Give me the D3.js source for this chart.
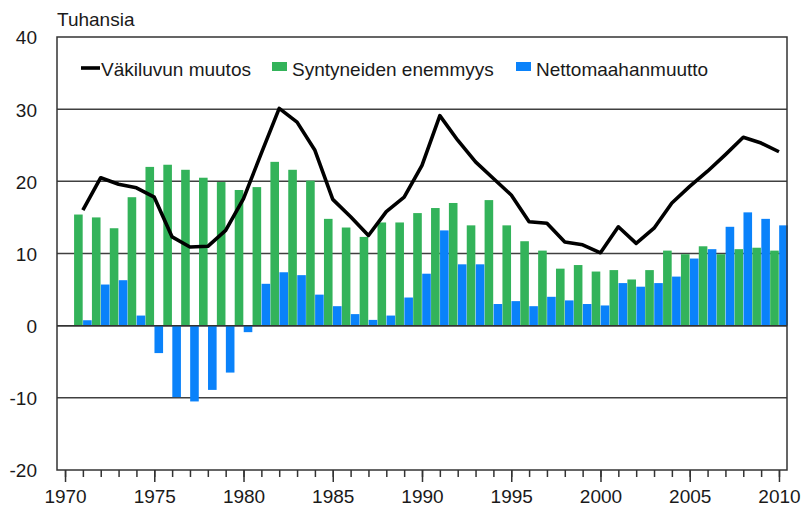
<!DOCTYPE html>
<html>
<head>
<meta charset="utf-8">
<script src="https://cdn.jsdelivr.net/npm/d3@7"></script>
<style>
  body { margin: 0; background: #fff; }
  text { font-family: "Liberation Sans", Arial, sans-serif; fill: #1a1a1a; }
  .axis path, .axis line { stroke: #333; }
</style>
</head>
<body>
<div id="chart"></div>
<script>
// data (thousands)
var years = d3.range(1971, 2011);

var births = [15.4, 15.0, 13.5, 17.8, 22.0, 22.3, 21.6, 20.5, 19.9, 18.8,
  19.2, 22.7, 21.6, 20.1, 14.8, 13.6, 12.3, 14.3, 14.3, 15.6,
  16.3, 17.0, 13.9, 17.4, 13.9, 11.7, 10.4, 7.9, 8.4, 7.5,
  7.7, 6.4, 7.7, 10.4, 9.9, 11.0, 9.9, 10.6, 10.8, 10.4];

var migration = [0.75, 5.7, 6.3, 1.4, -3.8, -9.9, -10.5, -8.9, -6.5, -0.9,
  5.8, 7.4, 7.0, 4.3, 2.7, 1.6, 0.8, 1.4, 3.9, 7.2,
  13.2, 8.5, 8.5, 3.0, 3.4, 2.7, 4.0, 3.5, 3.0, 2.8,
  5.9, 5.4, 5.9, 6.8, 9.3, 10.6, 13.7, 15.7, 14.8, 13.9];

var change = [16.0, 20.5, 19.6, 19.1, 17.8, 12.3, 10.9, 11.0, 13.2, 17.6,
  23.9, 30.1, 28.2, 24.3, 17.5, 15.1, 12.5, 15.8, 17.8, 22.2,
  29.1, 25.7, 22.7, 20.4, 18.1, 14.4, 14.2, 11.6, 11.2, 10.1,
  13.7, 11.4, 13.5, 17.0, 19.3, 21.4, 23.7, 26.1, 25.3, 24.1];

var yTicks = [-20, -10, 0, 10, 20, 30, 40];
var xTickYears = [1970, 1975, 1980, 1985, 1990, 1995, 2000, 2005, 2010];

var seriesNames = ["Väkiluvun muutos", "Syntyneiden enemmyys", "Nettomaahanmuutto"];

(function () {
  var green = "#33b35a", blue = "#0a82fa"

  var W = 801, H = 516
  var pl = 57, pr = 787, pt = 37, pb = 470

  var svg = d3.select("#chart").append("svg")
    .attr("width", W)
    .attr("height", H)

  var x = d3.scaleLinear().domain([1969.55, 2010.45]).range([pl, pr])
  var y = d3.scaleLinear().domain([-20, 40]).range([pb, pt])

  var barW = 8.6

  // gridlines
  svg.append("g")
    .selectAll("line")
    .data(yTicks.filter(function(d) { return d > -20 && d < 40 }))
    .enter().append("line")
    .attr("x1", pl).attr("x2", pr)
    .attr("y1", function(d) { return y(d) }).attr("y2", function(d) { return y(d) })
    .attr("stroke", "#404040")
    .attr("stroke-width", 1.5)

  // bars
  svg.append("g").selectAll("rect")
    .data(years)
    .enter().append("rect")
    .attr("x", function(d) { return x(d) - barW - 0.2 })
    .attr("y", function(d, i) { return y(Math.max(0, births[i])) })
    .attr("width", barW)
    .attr("height", function(d, i) { return Math.abs(y(births[i]) - y(0)) })
    .attr("fill", green)

  svg.append("g").selectAll("rect")
    .data(years)
    .enter().append("rect")
    .attr("x", function(d) { return x(d) + 0.2 })
    .attr("y", function(d, i) { return y(Math.max(0, migration[i])) })
    .attr("width", barW)
    .attr("height", function(d, i) { return Math.abs(y(migration[i]) - y(0)) })
    .attr("fill", blue)

  // zero line over bars
  svg.append("line")
    .attr("x1", pl).attr("x2", pr)
    .attr("y1", y(0)).attr("y2", y(0))
    .attr("stroke", "#333")
    .attr("stroke-width", 1.5)

  // line
  var line = d3.line()
    .x(function(d) { return x(d) })
    .y(function(d, i) { return y(change[i]) })

  svg.append("path")
    .datum(years)
    .attr("d", line)
    .attr("fill", "none")
    .attr("stroke", "#000")
    .attr("stroke-width", 3.6)
    .attr("stroke-linejoin", "round")

  // frame
  svg.append("rect")
    .attr("x", pl).attr("y", pt)
    .attr("width", pr - pl).attr("height", pb - pt)
    .attr("fill", "none")
    .attr("stroke", "#333")
    .attr("stroke-width", 1.5)

  // y axis labels (plain hyphen for negatives, like the original)
  var yAxis = d3.axisLeft(y).tickValues(yTicks).tickSize(0).tickPadding(20)
    .tickFormat(function(d) { return String(d) })
  svg.append("g")
    .attr("class", "axis y-axis")
    .attr("transform", "translate(" + pl + ",0)")
    .call(yAxis)
    .call(function(g) { g.select(".domain").remove() })
    .selectAll("text")
    .style("font-size", "19px")
    .attr("dy", "0.36em")

  // x axis: minor ticks every year, major every 5
  var xMinor = d3.axisBottom(x).tickValues(d3.range(1970, 2011)).tickSize(7).tickFormat("")
  svg.append("g")
    .attr("class", "axis x-minor")
    .attr("transform", "translate(0," + pb + ")")
    .call(xMinor)
    .call(function(g) { g.select(".domain").remove() })
    .selectAll("line").attr("stroke-width", 1.5)

  var xAxis = d3.axisBottom(x).tickValues(xTickYears).tickSize(12).tickPadding(8)
    .tickFormat(function(d) { return String(d) })
  svg.append("g")
    .attr("class", "axis x-axis")
    .attr("transform", "translate(0," + pb + ")")
    .call(xAxis)
    .call(function(g) { g.select(".domain").remove() })
    .call(function(g) { g.selectAll("line").attr("stroke-width", 1.5) })
    .selectAll("text")
    .style("font-size", "19px")

  // unit label
  svg.append("text")
    .attr("x", 57).attr("y", 26)
    .style("font-size", "19px")
    .text("Tuhansia")

  // legend
  var legend = svg.append("g")
  legend.append("line")
    .attr("x1", 81).attr("x2", 100)
    .attr("y1", 68).attr("y2", 68)
    .attr("stroke", "#000").attr("stroke-width", 3.6)
  legend.append("text").attr("x", 101).attr("y", 76).style("font-size", "19px").text(seriesNames[0])

  legend.append("rect").attr("x", 272).attr("y", 62).attr("width", 15).attr("height", 9).attr("fill", green)
  legend.append("text").attr("x", 292).attr("y", 76).style("font-size", "19px").text(seriesNames[1])

  legend.append("rect").attr("x", 516).attr("y", 62).attr("width", 15).attr("height", 9).attr("fill", blue)
  legend.append("text").attr("x", 536).attr("y", 76).style("font-size", "19px").text(seriesNames[2])
})()
</script>
</body>
</html>
